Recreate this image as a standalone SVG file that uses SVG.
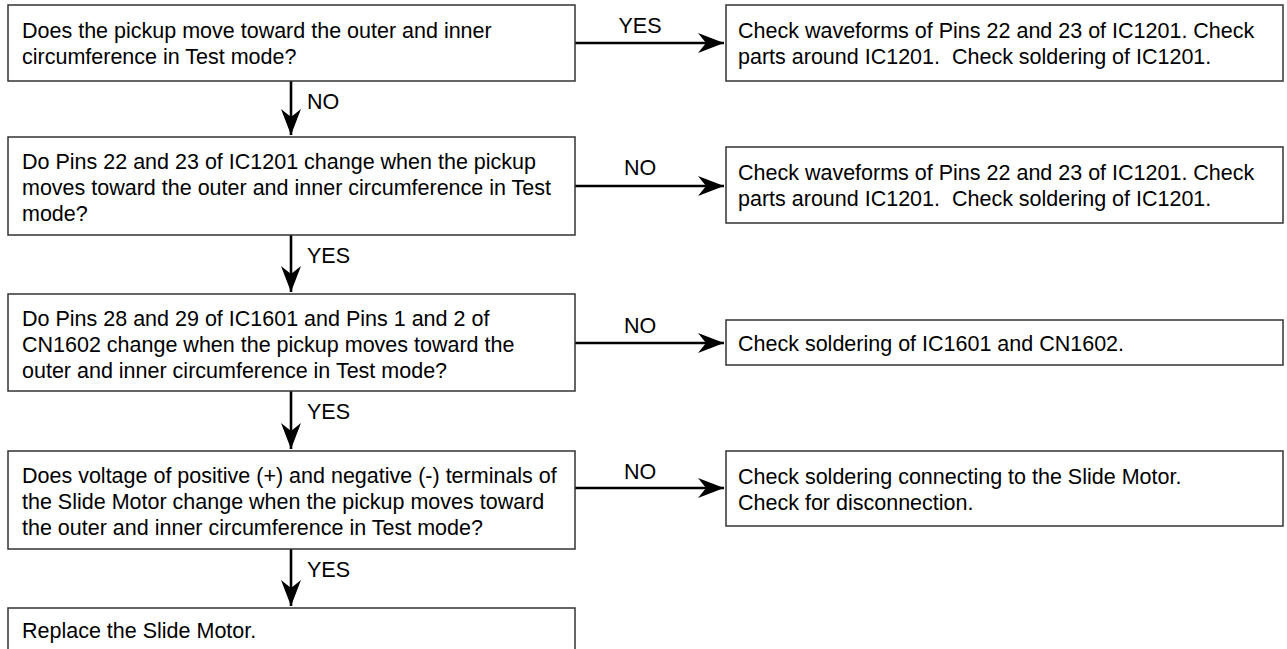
<svg xmlns="http://www.w3.org/2000/svg" width="1287" height="649" viewBox="0 0 1287 649">
  <style>
    .box { fill: #ffffff; stroke: #333333; stroke-width: 1.5; }
    .txt { font-family: "Liberation Sans", Arial, sans-serif; font-size: 21.5px; fill: #000000; white-space: pre; }
    .lbl { font-family: "Liberation Sans", Arial, sans-serif; font-size: 21.5px; fill: #000000; }
    .wire { stroke: #000000; stroke-width: 2.6; fill: none; }
  </style>
  <defs>
    <marker id="head" markerUnits="userSpaceOnUse" viewBox="-27 -11 28 22" refX="0" refY="0" markerWidth="28" markerHeight="22" orient="auto">
      <path d="M0,0 L-26,-10 L-18,0 L-26,10 Z" fill="#000000"/>
    </marker>
  </defs>
  <rect width="1287" height="649" fill="#ffffff"/>

  <g id="connectors">
    <line class="wire" x1="575" y1="43" x2="724" y2="43" marker-end="url(#head)"/>
    <text class="lbl" x="640" y="33" text-anchor="middle">YES</text>
    <line class="wire" x1="291" y1="81" x2="291" y2="135" marker-end="url(#head)"/>
    <text class="lbl" x="307" y="109">NO</text>

    <line class="wire" x1="575" y1="186" x2="724" y2="186" marker-end="url(#head)"/>
    <text class="lbl" x="640" y="175" text-anchor="middle">NO</text>
    <line class="wire" x1="291" y1="235" x2="291" y2="292" marker-end="url(#head)"/>
    <text class="lbl" x="307" y="263">YES</text>

    <line class="wire" x1="575" y1="343" x2="724" y2="343" marker-end="url(#head)"/>
    <text class="lbl" x="640" y="333" text-anchor="middle">NO</text>
    <line class="wire" x1="291" y1="391" x2="291" y2="449" marker-end="url(#head)"/>
    <text class="lbl" x="307" y="419">YES</text>

    <line class="wire" x1="575" y1="488" x2="724" y2="488" marker-end="url(#head)"/>
    <text class="lbl" x="640" y="479" text-anchor="middle">NO</text>
    <line class="wire" x1="291" y1="549" x2="291" y2="606" marker-end="url(#head)"/>
    <text class="lbl" x="307" y="577">YES</text>
  </g>

  <g id="q1">
    <rect class="box" x="8" y="5" width="567" height="76"/>
    <text class="txt" x="22" y="38">Does the pickup move toward the outer and inner</text>
    <text class="txt" x="22" y="64">circumference in Test mode?</text>
  </g>
  <g id="r1">
    <rect class="box" x="726" y="5" width="557" height="76"/>
    <text class="txt" x="738" y="38">Check waveforms of Pins 22 and 23 of IC1201. Check</text>
    <text class="txt" x="738" y="64">parts around IC1201.  Check soldering of IC1201.</text>
  </g>

  <g id="q2">
    <rect class="box" x="8" y="137" width="567" height="98"/>
    <text class="txt" x="22" y="169">Do Pins 22 and 23 of IC1201 change when the pickup</text>
    <text class="txt" x="22" y="195">moves toward the outer and inner circumference in Test</text>
    <text class="txt" x="22" y="221">mode?</text>
  </g>
  <g id="r2">
    <rect class="box" x="726" y="147" width="557" height="76"/>
    <text class="txt" x="738" y="180">Check waveforms of Pins 22 and 23 of IC1201. Check</text>
    <text class="txt" x="738" y="206">parts around IC1201.  Check soldering of IC1201.</text>
  </g>

  <g id="q3">
    <rect class="box" x="8" y="294" width="567" height="97"/>
    <text class="txt" x="22" y="326">Do Pins 28 and 29 of IC1601 and Pins 1 and 2 of</text>
    <text class="txt" x="22" y="352">CN1602 change when the pickup moves toward the</text>
    <text class="txt" x="22" y="378">outer and inner circumference in Test mode?</text>
  </g>
  <g id="r3">
    <rect class="box" x="726" y="320" width="557" height="45"/>
    <text class="txt" x="738" y="351">Check soldering of IC1601 and CN1602.</text>
  </g>

  <g id="q4">
    <rect class="box" x="8" y="451" width="567" height="98"/>
    <text class="txt" x="22" y="483">Does voltage of positive (+) and negative (-) terminals of</text>
    <text class="txt" x="22" y="509">the Slide Motor change when the pickup moves toward</text>
    <text class="txt" x="22" y="535">the outer and inner circumference in Test mode?</text>
  </g>
  <g id="r4">
    <rect class="box" x="726" y="451" width="557" height="75"/>
    <text class="txt" x="738" y="484">Check soldering connecting to the Slide Motor.</text>
    <text class="txt" x="738" y="510">Check for disconnection.</text>
  </g>

  <g id="end">
    <rect class="box" x="8" y="608" width="567" height="60"/>
    <text class="txt" x="22" y="638">Replace the Slide Motor.</text>
  </g>
</svg>
